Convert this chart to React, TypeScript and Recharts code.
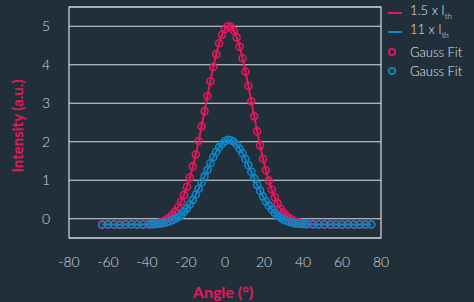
import {
  ComposedChart,
  CartesianGrid,
  XAxis,
  YAxis,
  Line,
  ReferenceArea,
} from "recharts";

// angle (deg) of each sample: coarse in the tails, finer round the peak
const angles = [
  -63, -60, -57, -54, -51, -48, -45, -42, -39,
  -37.5, -36, -34.5, -33, -31.5, -30, -28.5, -27, -25.5, -24, -22.5, -21, -19.5,
  -18, -16.5, -15, -13.5, -12, -10.5, -9, -7.5, -6, -4.5, -3, -1.5, 0, 1.5, 3,
  4.5, 6, 7.5, 9, 10.5, 12, 13.5, 15, 16.5, 18, 19.5, 21, 22.5, 24, 25.5, 27,
  28.5, 30, 31.5, 33, 34.5, 36, 37.5, 39, 40.5,
  42, 45, 48, 51, 54, 57, 60, 63, 66, 69, 72, 75,
];

// 1.5 x Ith
const lowCurrent = [
  -0.16, -0.15, -0.15, -0.16, -0.15, -0.15, -0.15, -0.15, -0.14,
  -0.13, -0.12, -0.11, -0.09, -0.06, -0.02, 0.03, 0.1, 0.19, 0.3, 0.45, 0.62,
  0.83, 1.07, 1.36, 1.67, 2.02, 2.4, 2.79, 3.19, 3.57, 3.94, 4.27, 4.56, 4.78,
  4.93, 5.0, 4.98, 4.89, 4.71, 4.47, 4.17, 3.82, 3.45, 3.05, 2.66, 2.27, 1.9,
  1.56, 1.26, 0.99, 0.76, 0.56, 0.4, 0.26, 0.16, 0.08, 0.01, -0.03, -0.07, -0.09,
  -0.11, -0.12,
  -0.13, -0.14, -0.15, -0.15, -0.15, -0.15, -0.15, -0.15, -0.15, -0.15, -0.15,
  -0.15,
];

// 11 x Ith
const highCurrent = [
  -0.15, -0.15, -0.15, -0.15, -0.15, -0.15, -0.15, -0.15, -0.15,
  -0.14, -0.14, -0.13, -0.12, -0.11, -0.09, -0.07, -0.04, 0.0, 0.04, 0.1, 0.18,
  0.27, 0.37, 0.49, 0.63, 0.78, 0.94, 1.1, 1.27, 1.44, 1.6, 1.74, 1.86, 1.95,
  2.02, 2.05, 2.04, 2.0, 1.93, 1.82, 1.7, 1.55, 1.39, 1.22, 1.05, 0.88, 0.73,
  0.58, 0.45, 0.34, 0.24, 0.15, 0.08, 0.03, -0.02, -0.05, -0.08, -0.1, -0.12,
  -0.13, -0.13, -0.14,
  -0.14, -0.15, -0.15, -0.15, -0.15, -0.15, -0.15, -0.15, -0.15, -0.15, -0.15,
  -0.15,
];

const xTicks = [-80, -60, -40, -20, 0, 20, 40, 60, 80];
const yTicks = [0, 1, 2, 3, 4, 5];

const PINK = "#e8175d";
const BLUE = "#0f86c6";
const BG = "#212f3b";
const GRID = "#d9dcde";
const FONT = "Lato, 'DejaVu Sans', sans-serif";

const data = angles.map((a, i) => ({
  angle: a,
  low: lowCurrent[i],
  high: highCurrent[i],
}));

const fitDot = (color: string) => ({
  r: 3.5,
  stroke: color,
  strokeWidth: 1.6,
  fill: "none",
});

const LegendRow = ({
  color,
  kind,
  children,
}: {
  color: string;
  kind: "line" | "dot";
  children: React.ReactNode;
}) => (
  <div style={{ display: "flex", alignItems: "center", height: 19.5 }}>
    <svg width={20} height={12}>
      {kind === "line" ? (
        <line x1={2} x2={16} y1={6} y2={6} stroke={color} strokeWidth={2} />
      ) : (
        <circle cx={6} cy={6} r={3.2} stroke={color} strokeWidth={1.8} fill="none" />
      )}
    </svg>
    <span style={{ marginLeft: 4 }}>{children}</span>
  </div>
);

export default function App() {
  return (
    <div
      style={{
        position: "absolute",
        left: 0,
        top: 0,
        width: 474,
        height: 302,
        background: BG,
        fontFamily: FONT,
        overflow: "hidden",
      }}
    >
      <ComposedChart
        width={474}
        height={302}
        data={data}
        margin={{ top: 7, right: 93, left: 0, bottom: 0 }}
      >
        <CartesianGrid
          horizontal
          vertical={false}
          stroke={GRID}
          strokeWidth={1.2}
        />
        <ReferenceArea
          x1={-80}
          x2={80}
          y1={-0.5}
          y2={5.5}
          fill="none"
          stroke={GRID}
          strokeWidth={1.2}
          ifOverflow="visible"
        />
        <XAxis
          dataKey="angle"
          type="number"
          domain={[-80, 80]}
          ticks={xTicks}
          height={64}
          axisLine={false}
          tickLine={false}
          tickSize={0}
          tickMargin={19}
          tick={{ fill: "#d4d7da", fontSize: 14, fontWeight: 300, fontFamily: FONT }}
        />
        <YAxis
          type="number"
          domain={[-0.5, 5.5]}
          ticks={yTicks}
          width={69}
          axisLine={false}
          tickLine={false}
          tickSize={0}
          tickMargin={19}
          tick={{ fill: "#d4d7da", fontSize: 14, fontWeight: 300, fontFamily: FONT }}
        />
        <Line
          dataKey="low"
          type="monotone"
          stroke={PINK}
          strokeWidth={2}
          dot={false}
          isAnimationActive={false}
        />
        <Line
          dataKey="low"
          stroke="none"
          dot={fitDot(PINK)}
          activeDot={false}
          isAnimationActive={false}
        />
        <Line
          dataKey="high"
          type="monotone"
          stroke={BLUE}
          strokeWidth={2}
          dot={false}
          isAnimationActive={false}
        />
        <Line
          dataKey="high"
          stroke="none"
          dot={fitDot(BLUE)}
          activeDot={false}
          isAnimationActive={false}
        />
      </ComposedChart>

      {/* axis titles */}
      <div
        style={{
          position: "absolute",
          left: 17,
          top: 126,
          transform: "translate(-50%, -50%) rotate(-90deg)",
          color: PINK,
          fontSize: 15,
          fontWeight: 700,
          whiteSpace: "nowrap",
        }}
      >
        Intensity (a.u.)
      </div>
      <div
        style={{
          position: "absolute",
          left: 223,
          top: 291,
          transform: "translate(-50%, -50%)",
          color: PINK,
          fontSize: 16,
          fontWeight: 700,
          whiteSpace: "nowrap",
        }}
      >
        Angle (°)
      </div>

      {/* legend */}
      <div
        style={{
          position: "absolute",
          left: 386,
          top: 3,
          color: "#e2e4e6",
          fontSize: 13,
          fontWeight: 300,
          lineHeight: "14px",
        }}
      >
        <LegendRow color={PINK} kind="line">
          1.5 x I<sub style={{ fontSize: 8 }}>th</sub>
        </LegendRow>
        <LegendRow color={BLUE} kind="line">
          11 x I<sub style={{ fontSize: 8 }}>th</sub>
        </LegendRow>
        <LegendRow color={PINK} kind="dot">
          Gauss Fit
        </LegendRow>
        <LegendRow color={BLUE} kind="dot">
          Gauss Fit
        </LegendRow>
      </div>
    </div>
  );
}
